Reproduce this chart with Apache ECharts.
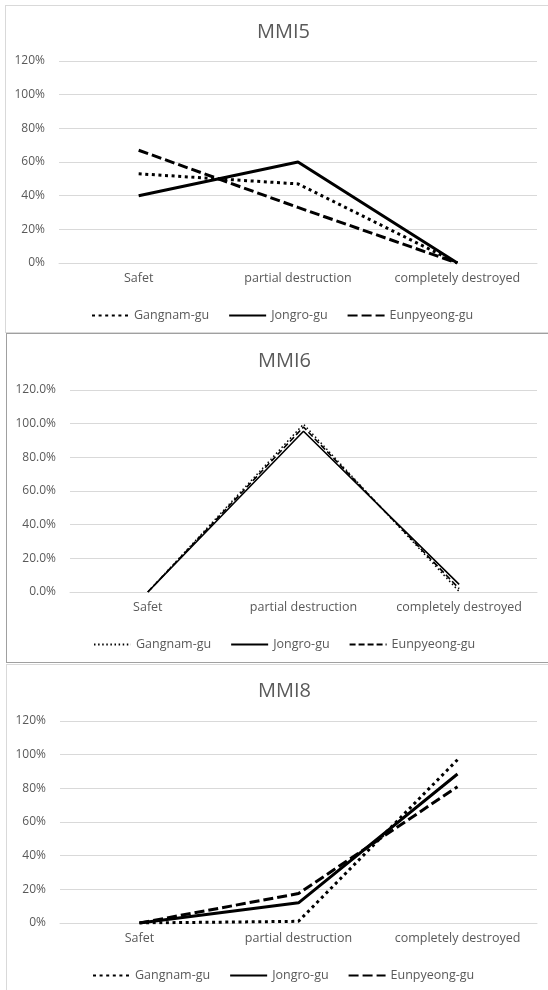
<!DOCTYPE html>
<html>
<head>
<meta charset="utf-8">
<script src="https://cdn.jsdelivr.net/npm/echarts@6/dist/echarts.min.js"></script>
<style>
  html, body { margin: 0; padding: 0; background: #fff; width: 548px; height: 990px; overflow: hidden; position: relative; }
  .panel { position: absolute; box-sizing: border-box; background: #fff; }
  #p5 { left: 5px; top: 5px; width: 560px; height: 328px; border: 1px solid #d9d9d9; }
  #p6 { left: 6px; top: 333px; width: 560px; height: 330px; border: 1px solid #a0a0a0; }
  #p8 { left: 6px; top: 664px; width: 560px; height: 340px; border: 1px solid #d9d9d9; }
</style>
</head>
<body>
<div id="p5" class="panel"></div>
<div id="p6" class="panel"></div>
<div id="p8" class="panel"></div>
<script>
// Damage-state categories and district names
const categories = ['Safet', 'partial destruction', 'completely destroyed'];
const districts = ['Gangnam-gu', 'Jongro-gu', 'Eunpyeong-gu'];
const yTicks = [0, 20, 40, 60, 80, 100, 120];

// Share of buildings per damage state (%), MMI5
const mmi5Gangnam = [53, 47, 0];
const mmi5Jongro = [40, 60, 0];
const mmi5Eunpyeong = [67, 33, 0];

// MMI6
const mmi6Gangnam = [0, 99.7, 0.3];
const mmi6Jongro = [0, 95.5, 4.5];
const mmi6Eunpyeong = [0, 98, 2];

// MMI8
const mmi8Gangnam = [0, 1, 97];
const mmi8Jongro = [0, 12, 88.5];
const mmi8Eunpyeong = [0, 17.5, 81];

const FONT = '"Open Sans", "Noto Sans", sans-serif';
const GREY = '#595959';

function makeChart(id, cfg) {
  const chart = echarts.init(document.getElementById(id), null, { renderer: 'canvas' });
  const styles = cfg.thin
    ? [[1.5, [1.5, 2.6]], [1.6, 'solid'], [1.6, [6, 3]]]
    : [[3, [3, 3.6]], [3, 'solid'], [3, [10, 4]]];
  const values = cfg.values;
  chart.setOption({
    animation: false,
    textStyle: { fontFamily: FONT },
    title: {
      text: cfg.title,
      left: cfg.titleLeft,
      top: cfg.titleTop,
      textStyle: { fontFamily: FONT, fontSize: 20, fontWeight: 'normal', color: GREY }
    },
    legend: {
      data: districts,
      left: cfg.legendLeft,
      top: cfg.legendTop,
      itemWidth: 37,
      itemHeight: 14,
      itemGap: 19,
      itemStyle: { opacity: 0 },
      textStyle: { fontFamily: FONT, fontSize: 12.5, color: GREY }
    },
    grid: {
      left: cfg.gridLeft,
      top: cfg.gridTop,
      width: cfg.gridWidth,
      height: 202
    },
    xAxis: {
      type: 'category',
      data: categories,
      boundaryGap: true,
      axisTick: { show: false },
      axisLine: { lineStyle: { color: '#d9d9d9', width: 1 } },
      axisLabel: { color: GREY, fontSize: 12.5, fontFamily: FONT, margin: 9, interval: 0 }
    },
    yAxis: {
      type: 'value',
      min: yTicks[0],
      max: yTicks[yTicks.length - 1],
      interval: yTicks[1] - yTicks[0],
      axisLine: { show: false },
      axisTick: { show: false },
      splitLine: { lineStyle: { color: '#d9d9d9', width: 1 } },
      axisLabel: {
        color: GREY, fontSize: 12, fontFamily: FONT, margin: 14,
        formatter: v => (cfg.decimals ? v.toFixed(1) : String(v)) + '%'
      }
    },
    series: districts.map((name, i) => ({
      name: name,
      type: 'line',
      data: values[i],
      symbol: 'none',
      lineStyle: { color: '#000', width: styles[i][0], type: styles[i][1], cap: 'butt' },
      itemStyle: { color: '#000' }
    }))
  });
}

makeChart('p5', {
  title: 'MMI5', titleLeft: 246, titleTop: 11,
  gridLeft: 53, gridTop: 55, gridWidth: 478,
  legendLeft: 80, legendTop: 298,
  values: [mmi5Gangnam, mmi5Jongro, mmi5Eunpyeong]
});

makeChart('p6', {
  title: 'MMI6', titleLeft: 246, titleTop: 12, thin: true, decimals: true,
  gridLeft: 63, gridTop: 56, gridWidth: 467,
  legendLeft: 81, legendTop: 299,
  values: [mmi6Gangnam, mmi6Jongro, mmi6Eunpyeong]
});

makeChart('p8', {
  title: 'MMI8', titleLeft: 246, titleTop: 11,
  gridLeft: 53, gridTop: 56, gridWidth: 477,
  legendLeft: 80, legendTop: 299,
  values: [mmi8Gangnam, mmi8Jongro, mmi8Eunpyeong]
});
</script>
</body>
</html>
